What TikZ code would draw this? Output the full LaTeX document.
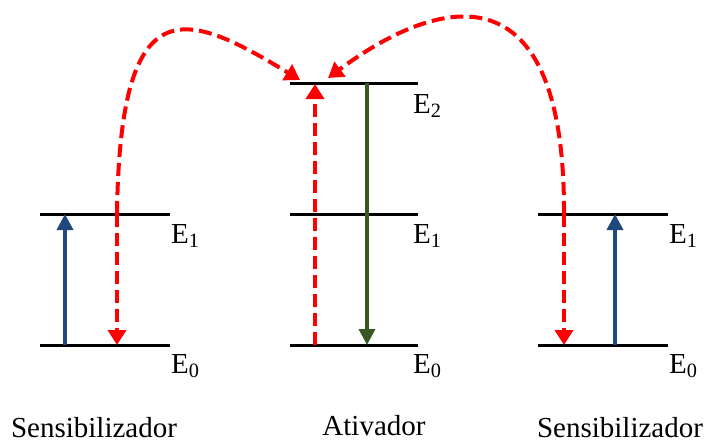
\documentclass[tikz,border=0pt]{standalone}
\usepackage{fontspec}
\setmainfont{Liberation Serif}
\usetikzlibrary{arrows.meta}

\definecolor{pumpblue}{RGB}{31,73,125}
\definecolor{emitgreen}{RGB}{56,87,35}

\newcommand{\lev}[1]{E\textsubscript{#1}}

\begin{document}
\begin{tikzpicture}[x=1pt,y=-1pt,
    level/.style={line width=3pt},
    lbl/.style={anchor=base west,inner sep=0pt,font=\fontsize{29}{31}\selectfont},
    ion/.style={anchor=base,inner sep=0pt,font=\fontsize{29}{31}\selectfont},
    pump/.style={line width=3.5pt,-{Triangle[width=16pt,length=16pt]}},
    transfer/.style={red,line width=4pt,dash pattern=on 13pt off 6pt,
        -{Triangle[width=18pt,length=15pt]}}]

    \useasboundingbox (0,0) rectangle (706,442);

    % ================= LEFT SENSITIZER =================
    \coordinate (lE1a) at (40,214);  \coordinate (lE1b) at (170,214);
    \coordinate (lE0a) at (40,345);  \coordinate (lE0b) at (170,345);
    \draw[level] (lE1a) -- (lE1b);
    \draw[level] (lE0a) -- (lE0b);
    \node[lbl] (lL1) at (171,243) {\lev{1}};
    \node[lbl] (lL0) at (171,373) {\lev{0}};

    \coordinate (lUp0) at (65,345);  \coordinate (lUp1) at (65,214);
    \coordinate (lDn1) at (117,214); \coordinate (lDn0) at (117,345);

    % ================= ACTIVATOR =================
    \coordinate (aE2a) at (290,83);  \coordinate (aE2b) at (418,83);
    \coordinate (aE1a) at (290,214); \coordinate (aE1b) at (418,214);
    \coordinate (aE0a) at (290,345); \coordinate (aE0b) at (418,345);
    \draw[level] (aE2a) -- (aE2b);
    \draw[level] (aE1a) -- (aE1b);
    \draw[level] (aE0a) -- (aE0b);
    \node[lbl] (aL2) at (413,113) {\lev{2}};
    \node[lbl] (aL1) at (413,243) {\lev{1}};
    \node[lbl] (aL0) at (413,373) {\lev{0}};

    \coordinate (aUp0) at (315,345); \coordinate (aUp2) at (315,84);
    \coordinate (aDn2) at (367,83);  \coordinate (aDn0) at (367,345);
    \coordinate (aInL) at (300,80);  \coordinate (aInR) at (328,78);

    % ================= RIGHT SENSITIZER =================
    \coordinate (rE1a) at (538,214); \coordinate (rE1b) at (668,214);
    \coordinate (rE0a) at (538,345); \coordinate (rE0b) at (668,345);
    \draw[level] (rE1a) -- (rE1b);
    \draw[level] (rE0a) -- (rE0b);
    \node[lbl] (rL1) at (669,243) {\lev{1}};
    \node[lbl] (rL0) at (669,373) {\lev{0}};

    \coordinate (rUp0) at (615,345); \coordinate (rUp1) at (615,214);
    \coordinate (rDn1) at (564,214); \coordinate (rDn0) at (564,345);

    % absorption and emission
    \draw[pump,pumpblue] (lUp0) -- (lUp1);
    \draw[pump,pumpblue] (rUp0) -- (rUp1);
    \draw[pump,emitgreen] (aDn2) -- (aDn0);

    % energy transfer
    \draw[transfer] (lDn1) -- (lDn0);
    \draw[transfer] (rDn1) -- (rDn0);
    \draw[transfer] (aUp0) -- (aUp2);
    \draw[transfer] (lDn1) .. controls (120,-15) and (185,10) .. (aInL);
    \draw[transfer] (rDn1) .. controls (565,-35) and (440,-5) .. (aInR);

    % names
    \node[ion] (sensL) at (94,437) {Sensibilizador};
    \node[ion] (ativ) at (374,435) {Ativador};
    \node[ion] (sensR) at (620,437) {Sensibilizador};

\end{tikzpicture}
\end{document}
